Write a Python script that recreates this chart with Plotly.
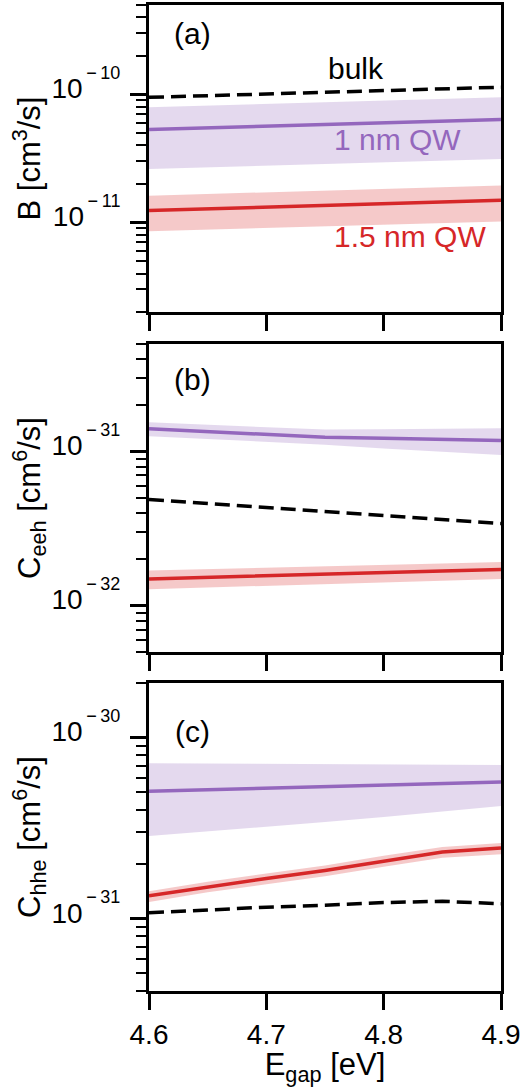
import math
import plotly.graph_objects as go

# ---------------- data ----------------
egap = [4.6, 4.65, 4.7, 4.75, 4.8, 4.85, 4.9]

# (a) radiative B [cm^3/s]
B_bulk = [9.5e-11, 9.8e-11, 10.1e-11, 10.4e-11, 10.7e-11, 11.0e-11, 11.4e-11]
B_1nm = [5.32e-11, 5.48e-11, 5.65e-11, 5.82e-11, 5.99e-11, 6.18e-11, 6.37e-11]
B_1nm_hi = [7.95e-11, 8.2e-11, 8.45e-11, 8.7e-11, 8.95e-11, 9.2e-11, 9.5e-11]
B_1nm_lo = [2.62e-11, 2.70e-11, 2.78e-11, 2.87e-11, 2.95e-11, 3.04e-11, 3.13e-11]
B_15nm = [1.24e-11, 1.28e-11, 1.32e-11, 1.36e-11, 1.40e-11, 1.44e-11, 1.49e-11]
B_15nm_hi = [1.62e-11, 1.67e-11, 1.72e-11, 1.78e-11, 1.83e-11, 1.89e-11, 1.95e-11]
B_15nm_lo = [0.855e-11, 0.88e-11, 0.905e-11, 0.93e-11, 0.96e-11, 0.99e-11, 1.02e-11]

# (b) Ceeh [cm^6/s]
Ceeh_bulk = [4.89e-32, 4.61e-32, 4.35e-32, 4.10e-32, 3.86e-32, 3.63e-32, 3.41e-32]
Ceeh_1nm = [1.41e-31, 1.35e-31, 1.30e-31, 1.24e-31, 1.22e-31, 1.20e-31, 1.18e-31]
Ceeh_1nm_hi = [1.55e-31, 1.50e-31, 1.45e-31, 1.39e-31, 1.40e-31, 1.41e-31, 1.42e-31]
Ceeh_1nm_lo = [1.26e-31, 1.21e-31, 1.16e-31, 1.11e-31, 1.05e-31, 1.00e-31, 0.95e-31]
Ceeh_15nm = [1.49e-32, 1.53e-32, 1.57e-32, 1.61e-32, 1.64e-32, 1.68e-32, 1.72e-32]
Ceeh_15nm_hi = [1.69e-32, 1.73e-32, 1.77e-32, 1.81e-32, 1.84e-32, 1.88e-32, 1.92e-32]
Ceeh_15nm_lo = [1.28e-32, 1.31e-32, 1.35e-32, 1.38e-32, 1.42e-32, 1.45e-32, 1.49e-32]

# (c) Chhe [cm^6/s]
Chhe_bulk = [1.08e-31, 1.12e-31, 1.16e-31, 1.19e-31, 1.23e-31, 1.25e-31, 1.21e-31]
Chhe_1nm = [5.05e-31, 5.15e-31, 5.25e-31, 5.35e-31, 5.45e-31, 5.57e-31, 5.69e-31]
Chhe_1nm_hi = [7.21e-31, 7.18e-31, 7.16e-31, 7.13e-31, 7.11e-31, 7.08e-31, 7.06e-31]
Chhe_1nm_lo = [2.86e-31, 3.03e-31, 3.22e-31, 3.42e-31, 3.65e-31, 3.91e-31, 4.19e-31]
Chhe_15nm = [1.34e-31, 1.50e-31, 1.67e-31, 1.85e-31, 2.09e-31, 2.34e-31, 2.46e-31]
Chhe_15nm_hi = [1.42e-31, 1.60e-31, 1.78e-31, 1.97e-31, 2.23e-31, 2.49e-31, 2.62e-31]
Chhe_15nm_lo = [1.24e-31, 1.40e-31, 1.55e-31, 1.72e-31, 1.94e-31, 2.17e-31, 2.27e-31]

x_ticks = [4.6, 4.7, 4.8, 4.9]
panel_labels = ["(a)", "(b)", "(c)"]
y_titles = ["B [cm<sup>3</sup>/s]", "C<sub>eeh</sub> [cm<sup>6</sup>/s]", "C<sub>hhe</sub> [cm<sup>6</sup>/s]"]
y_ranges = [(2e-12, 5e-10), (5e-33, 5e-31), (4e-32, 2e-30)]
y_major = [[-11, -10], [-32, -31], [-31, -30]]
x_title = "E<sub>gap</sub> [eV]"

# ---------------- style ----------------
PURPLE = "#9467bd"
RED = "#d62728"
PURPLE_FILL = "rgba(148,103,189,0.25)"
RED_FILL = "rgba(214,39,40,0.25)"
FONT = "Liberation Sans, Arial, sans-serif"
TICK_SIZE = 28
SUP_SIZE = 18
TITLE_SIZE = 31
ANNOT_SIZE = 30

fig = go.Figure()

panels = [
    (B_bulk, B_1nm, B_1nm_lo, B_1nm_hi, B_15nm, B_15nm_lo, B_15nm_hi),
    (Ceeh_bulk, Ceeh_1nm, Ceeh_1nm_lo, Ceeh_1nm_hi, Ceeh_15nm, Ceeh_15nm_lo, Ceeh_15nm_hi),
    (Chhe_bulk, Chhe_1nm, Chhe_1nm_lo, Chhe_1nm_hi, Chhe_15nm, Chhe_15nm_lo, Chhe_15nm_hi),
]

for i, (bulk, q1, q1lo, q1hi, q15, q15lo, q15hi) in enumerate(panels):
    xa = "x" if i == 0 else f"x{i+1}"
    ya = "y" if i == 0 else f"y{i+1}"
    for lo, hi, fc in [(q1lo, q1hi, PURPLE_FILL), (q15lo, q15hi, RED_FILL)]:
        fig.add_trace(go.Scatter(x=egap, y=lo, mode="lines", line=dict(width=0),
                                 xaxis=xa, yaxis=ya, showlegend=False, hoverinfo="skip"))
        fig.add_trace(go.Scatter(x=egap, y=hi, mode="lines", line=dict(width=0),
                                 fill="tonexty", fillcolor=fc,
                                 xaxis=xa, yaxis=ya, showlegend=False, hoverinfo="skip"))
    fig.add_trace(go.Scatter(x=egap, y=q1, mode="lines", line=dict(color=PURPLE, width=3.5),
                             xaxis=xa, yaxis=ya, showlegend=False))
    fig.add_trace(go.Scatter(x=egap, y=q15, mode="lines", line=dict(color=RED, width=3.5),
                             xaxis=xa, yaxis=ya, showlegend=False))
    fig.add_trace(go.Scatter(x=egap, y=bulk, mode="lines",
                             line=dict(color="black", width=3.5, dash="15px,7px"),
                             xaxis=xa, yaxis=ya, showlegend=False))

domains = [(0.6886, 1.0), (0.3438, 0.6562), (0.0, 0.3124)]

layout = dict(
    width=525, height=1087,
    margin=dict(l=149, r=24, t=5, b=96, autoexpand=False),
    paper_bgcolor="white", plot_bgcolor="white",
    font=dict(family=FONT, size=TICK_SIZE, color="black"),
    showlegend=False,
)

for i in range(3):
    xk = "xaxis" if i == 0 else f"xaxis{i+1}"
    yk = "yaxis" if i == 0 else f"yaxis{i+1}"
    ya = "y" if i == 0 else f"y{i+1}"
    xa = "x" if i == 0 else f"x{i+1}"
    layout[xk] = dict(
        domain=[0, 1], anchor=ya, range=[4.6, 4.9],
        tickmode="array", tickvals=x_ticks, ticktext=[f"{v:.1f}" for v in x_ticks],
        showticklabels=(i == 2),
        ticks="outside", ticklen=16, tickwidth=3, tickcolor="black",
        showline=True, linewidth=3, linecolor="black", mirror=True,
        showgrid=False, zeroline=False, automargin=False,
        tickfont=dict(size=TICK_SIZE),
        title=dict(text=x_title if i == 2 else "", font=dict(size=TITLE_SIZE), standoff=0),
    )
    lo, hi = y_ranges[i]
    exps = y_major[i]
    layout[yk] = dict(
        domain=list(domains[i]), anchor=xa, type="log",
        range=[math.log10(lo), math.log10(hi)],
        tickmode="array",
        tickvals=[10.0 ** e for e in exps],
        ticktext=[f"10<sup><span style='font-size:{SUP_SIZE}px;baseline-shift:8px'>"
                  f"\u2009\u2212\u2009{abs(e)}</span></sup>" for e in exps],
        ticks="outside", ticklen=16, tickwidth=3, tickcolor="black",
        ticklabelshift=-6, ticklabelstandoff=4,
        minor=dict(ticks="outside", ticklen=10, tickwidth=2, tickcolor="black", dtick="D1", showgrid=False),
        showline=True, linewidth=3, linecolor="black", mirror=True,
        showgrid=False, zeroline=False, automargin=False,
        tickfont=dict(size=TICK_SIZE),
        title=dict(text=y_titles[i], font=dict(size=TITLE_SIZE), standoff=2),
    )

fig.update_layout(**layout)

ann = []
label_pos = [(192, 33), (192, 380), (192, 732)]
panel_px = [(5, 312), (344, 652), (683, 991)]
for i, lab in enumerate(panel_labels):
    xa = "x" if i == 0 else f"x{i+1}"
    ya = "y" if i == 0 else f"y{i+1}"
    top, bot = panel_px[i]
    px, py = label_pos[i]
    ann.append(dict(text=lab, x=(px - 149) / 352, y=(bot - py) / (bot - top),
                    xref=f"{xa} domain", yref=f"{ya} domain", xanchor="center", yanchor="middle",
                    showarrow=False, font=dict(size=ANNOT_SIZE, color="black")))
series_labels = [("bulk", 356, 68, "black"), ("1 nm QW", 397, 139, PURPLE), ("1.5 nm QW", 410, 236, RED)]
for txt, px, py, col in series_labels:
    ann.append(dict(text=txt, x=(px - 149) / 352, y=(312 - py) / 307, xref="x domain", yref="y domain",
                    xanchor="center", yanchor="middle",
                    showarrow=False, font=dict(size=ANNOT_SIZE, color=col)))
fig.update_layout(annotations=ann)

fig.write_html("out.html", config={"displayModeBar": False},
               post_script="document.body.style.margin='0px';")
